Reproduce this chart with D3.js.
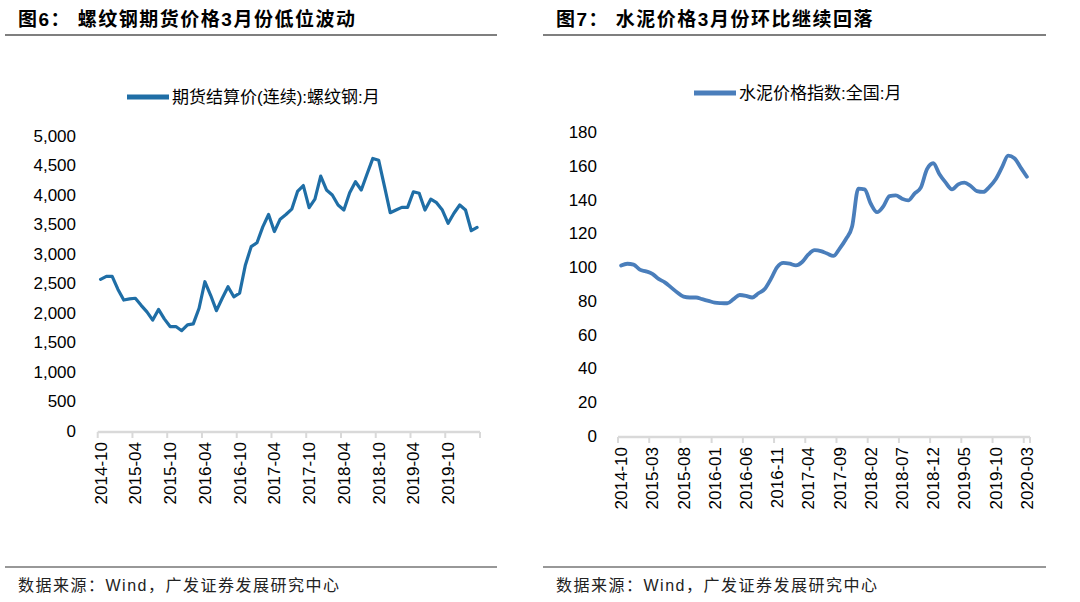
<!DOCTYPE html>
<html>
<head>
<meta charset="utf-8">
<script src="https://cdn.jsdelivr.net/npm/d3@7"></script>
<style>
  body { margin: 0; background: #fff; }
  text { font-family: "Liberation Sans", Arial, "Noto Sans CJK SC", sans-serif; }
</style>
</head>
<body>
<svg id="chart" width="1080" height="602"></svg>
<script>
// monthly categories, 2014-10 .. 2020-03
var months = [
  "2014-10","2014-11","2014-12",
  "2015-01","2015-02","2015-03","2015-04","2015-05","2015-06","2015-07","2015-08","2015-09","2015-10","2015-11","2015-12",
  "2016-01","2016-02","2016-03","2016-04","2016-05","2016-06","2016-07","2016-08","2016-09","2016-10","2016-11","2016-12",
  "2017-01","2017-02","2017-03","2017-04","2017-05","2017-06","2017-07","2017-08","2017-09","2017-10","2017-11","2017-12",
  "2018-01","2018-02","2018-03","2018-04","2018-05","2018-06","2018-07","2018-08","2018-09","2018-10","2018-11","2018-12",
  "2019-01","2019-02","2019-03","2019-04","2019-05","2019-06","2019-07","2019-08","2019-09","2019-10","2019-11","2019-12",
  "2020-01","2020-02","2020-03"
];

// 期货结算价(连续):螺纹钢:月
var rebarPrice = [
  2570, 2620, 2620, 2400, 2220, 2240, 2250, 2130, 2020, 1880,
  2060, 1900, 1770, 1770, 1700, 1800, 1815, 2080, 2530, 2300,
  2040, 2250, 2445, 2275, 2335, 2815, 3125, 3190, 3460, 3670,
  3380, 3590, 3670, 3760, 4060, 4160, 3785, 3930, 4320, 4085,
  4000, 3830, 3745, 4040, 4225, 4085, 4355, 4620, 4590, 4150,
  3700, 3745, 3790, 3790, 4055, 4030, 3745, 3930, 3870, 3745,
  3520, 3690, 3830, 3745, 3395, 3450
];

// 水泥价格指数:全国:月
var cementIndex = [
  101, 102, 101.5, 98.5, 97.5, 96, 93, 91, 88, 85,
  82.5, 82, 82, 81, 80, 79, 78.7, 78.6, 81, 83.5,
  83, 82, 84.5, 87, 93, 100, 102.5, 102, 101, 103,
  107.5, 110, 109.5, 108, 106.6, 111, 116.5, 124, 146.5, 146,
  137.5, 132.5, 136, 142, 142.5, 140.5, 139.5, 143.5, 147, 158,
  161.5, 155, 150, 146, 149, 150, 148, 145, 144.5, 147.5,
  152, 159, 166, 164.5, 159, 153.5
];

var rebarTicks = ["2014-10","2015-04","2015-10","2016-04","2016-10","2017-04","2017-10","2018-04","2018-10","2019-04","2019-10"];
var cementTicks = ["2014-10","2015-03","2015-08","2016-01","2016-06","2016-11","2017-04","2017-09","2018-02","2018-07","2018-12","2019-05","2019-10","2020-03"];
var rebarYTicks = [0, 500, 1000, 1500, 2000, 2500, 3000, 3500, 4000, 4500, 5000];
var cementYTicks = [0, 20, 40, 60, 80, 100, 120, 140, 160, 180];

var svg = d3.select("#chart");

function drawPanel(p) {
  var g = svg.append("g");

  // title + rules
  g.append("text")
    .attr("x", p.titleX).attr("y", 26)
    .attr("font-size", 19).attr("font-weight", "bold")
    .attr("letter-spacing", 1.5)
    .attr("font-family", "'Noto Sans CJK SC', sans-serif")
    .text(p.title);
  g.append("line")
    .attr("x1", p.ruleX[0]).attr("x2", p.ruleX[1])
    .attr("y1", 35).attr("y2", 35)
    .attr("stroke", "#000").attr("stroke-width", 1.2);
  g.append("line")
    .attr("x1", p.ruleX[0]).attr("x2", p.ruleX[1])
    .attr("y1", 567).attr("y2", 567)
    .attr("stroke", "#333").attr("stroke-width", 1.2);
  g.append("text")
    .attr("x", p.titleX).attr("y", 591)
    .attr("font-size", 16).attr("fill", "#222")
    .attr("letter-spacing", 1.5)
    .attr("font-family", "'Noto Sans CJK SC', sans-serif")
    .text("数据来源：Wind，广发证券发展研究中心");

  var x = d3.scaleBand().domain(months).range(p.xRange);
  var y = d3.scaleLinear().domain(p.yDomain).range(p.yRange);

  // y axis (labels only)
  var yAxis = d3.axisLeft(y)
    .tickValues(p.yTicks)
    .tickSize(0)
    .tickPadding(0)
    .tickFormat(p.yFormat);
  g.append("g")
    .attr("transform", "translate(" + p.yLabelX + ",0)")
    .call(yAxis)
    .call(function(a) {
      a.select(".domain").remove();
      a.selectAll("text").attr("font-size", 17).attr("fill", "#000")
        .attr("font-family", "'Liberation Sans', Arial, sans-serif");
    });

  // x axis
  var axisY = y(0) + 1;
  var xa = g.append("g");
  xa.append("line")
    .attr("x1", p.xRange[0]).attr("x2", p.xRange[1])
    .attr("y1", axisY).attr("y2", axisY)
    .attr("stroke", "#d9d9d9").attr("stroke-width", 2.5);
  var tickPos = p.xTicks.map(function(m) { return x(m); }).concat([p.xRange[1]]);
  xa.selectAll("line.tick").data(tickPos).enter().append("line")
    .attr("class", "tick")
    .attr("x1", function(d) { return d; }).attr("x2", function(d) { return d; })
    .attr("y1", axisY).attr("y2", axisY + 6)
    .attr("stroke", "#d9d9d9").attr("stroke-width", 2);
  xa.selectAll("text").data(p.xTicks).enter().append("text")
    .attr("transform", function(d) {
      return "translate(" + (x(d) + x.bandwidth() / 2 + 6) + "," + (axisY + 10) + ") rotate(-90)";
    })
    .attr("text-anchor", "end")
    .attr("font-size", 17)
    .attr("font-family", "'Liberation Sans', Arial, sans-serif")
    .text(function(d) { return d; });

  // line
  var line = d3.line()
    .x(function(d, i) { return x(months[i]) + x.bandwidth() / 2; })
    .y(function(d) { return y(d); })
    .curve(p.curve);
  g.append("path")
    .datum(p.values)
    .attr("fill", "none")
    .attr("stroke", p.color)
    .attr("stroke-width", p.width)
    .attr("stroke-linejoin", "round")
    .attr("stroke-linecap", "round")
    .attr("d", line);

  // legend
  g.append("line")
    .attr("x1", p.legend[0]).attr("x2", p.legend[0] + 42)
    .attr("y1", p.legend[1]).attr("y2", p.legend[1])
    .attr("stroke", p.color).attr("stroke-width", 5);
  g.append("text")
    .attr("x", p.legend[0] + 45).attr("y", p.legend[1] + 6)
    .attr("font-size", 17)
    .attr("font-family", "'Noto Sans CJK SC', sans-serif")
    .text(p.legendText);
}

drawPanel({
  title: "图6： 螺纹钢期货价格3月份低位波动",
  titleX: 18,
  ruleX: [5, 497],
  xRange: [97.7, 480],
  yDomain: [0, 5000],
  yRange: [431, 136],
  yTicks: rebarYTicks,
  yFormat: d3.format(","),
  yLabelX: 76,
  xTicks: rebarTicks,
  values: rebarPrice,
  color: "#1f6ea6",
  width: 3.2,
  curve: d3.curveLinear,
  legend: [127, 97],
  legendText: "期货结算价(连续):螺纹钢:月"
});

drawPanel({
  title: "图7： 水泥价格3月份环比继续回落",
  titleX: 556,
  ruleX: [543, 1046],
  xRange: [618, 1030],
  yDomain: [0, 180],
  yRange: [436, 132],
  yTicks: cementYTicks,
  yFormat: d3.format("d"),
  yLabelX: 597,
  xTicks: cementTicks,
  values: cementIndex,
  color: "#4a7ebb",
  width: 3.8,
  curve: d3.curveMonotoneX,
  legend: [694, 93],
  legendText: "水泥价格指数:全国:月"
});
</script>
</body>
</html>
